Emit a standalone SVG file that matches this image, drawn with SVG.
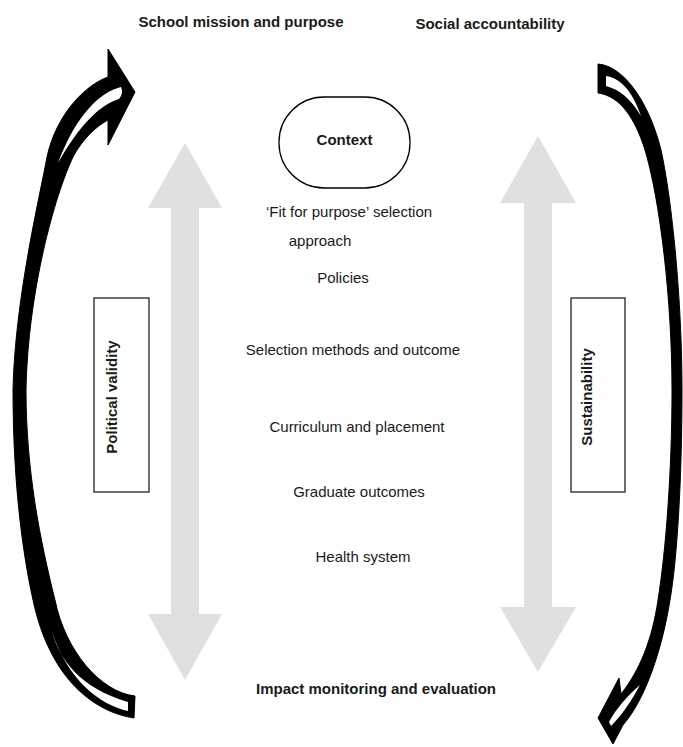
<svg xmlns="http://www.w3.org/2000/svg" width="683" height="747" viewBox="0 0 683 747">
<style>
.t{font-family:"Liberation Sans",Arial,sans-serif;font-size:15px;fill:#1a1a1a;text-anchor:middle}
.b{font-weight:bold}
.curve{fill:#000;stroke:#000;stroke-width:1;stroke-linejoin:round}
.gap{fill:#fff;stroke:none}
.gray{fill:#e0e0e0;stroke:none}
.box{fill:#fff;stroke:#222;stroke-width:1.3}
</style>
<rect width="683" height="747" fill="#fff"/>
<g id="connectors">
<g id="left-arrow">
<path class="curve" d="M135,92 L108,49 L108,77 C85,85 56,115 47,157 C39,200 15,300 13,390 C13,480 22,550 33,600 C50,680 95,712 134,718 L135,696 C100,692 65,650 55,600 C40,540 26,470 26,390 C28,290 55,195 73,157 C82,140 95,127 108,120 L108,145 Z"/>
<path class="gap" d="M121,87 C100,92 76,115 58,163 C80,124 100,105 119,99 Q124,93 121,87 Z"/>
<path class="gap" d="M52,632 C60,660 80,688 128,702 L128,711 C100,705 68,680 52,632 Z"/>
</g>
<g id="right-arrow">
<path class="curve" d="M598,64 C625,66 650,105 661,150 C672,200 682,300 682,390 C682,480 677,560 670,600 C662,650 645,700 623,725 L613,744 L598,718 L619,678 L621,694 C640,670 652,640 658,600 C666,550 672,470 672,390 C672,300 660,200 645,150 C635,118 620,96 598,93 Z"/>
<path class="gap" d="M606,76 C620,78 632,90 641,116 C630,98 620,90 606,86 Z"/>
<path class="gap" d="M609,722 C615,710 628,695 640,685 C632,700 622,715 611,726 Z"/>
</g>
<path class="gray" d="M185,143 L222,208 L199,208 L199,614 L222,614 L185,680 L148,614 L171,614 L171,208 L148,208 Z"/>
<path class="gray" d="M538,136 L576,203 L552,203 L552,607 L576,607 L538,672 L500,607 L524,607 L524,203 L500,203 Z"/>
</g>
<g id="context">
<rect x="279" y="97" width="131" height="91" rx="45" ry="45" fill="#fff" stroke="#000" stroke-width="1.3"/>
<text class="t b" x="344.5" y="145">Context</text>
</g>
<g id="political">
<rect class="box" x="94" y="298" width="55" height="194"/>
<text class="t b" transform="translate(117,397) rotate(-90)">Political validity</text>
</g>
<g id="sustainability">
<rect class="box" x="571" y="298" width="54" height="194"/>
<text class="t b" transform="translate(592,397) rotate(-90)">Sustainability</text>
</g>
<g id="labels">
<text class="t b" x="241" y="27">School mission and purpose</text>
<text class="t b" x="490" y="29">Social accountability</text>
<text class="t" x="349" y="217">‘Fit for purpose’ selection</text>
<text class="t" x="320" y="246">approach</text>
<text class="t" x="343" y="283">Policies</text>
<text class="t" x="353" y="355">Selection methods and outcome</text>
<text class="t" x="357" y="432">Curriculum and placement</text>
<text class="t" x="359" y="497">Graduate outcomes</text>
<text class="t" x="363" y="562">Health system</text>
<text class="t b" x="376" y="694">Impact monitoring and evaluation</text>
</g>
</svg>
